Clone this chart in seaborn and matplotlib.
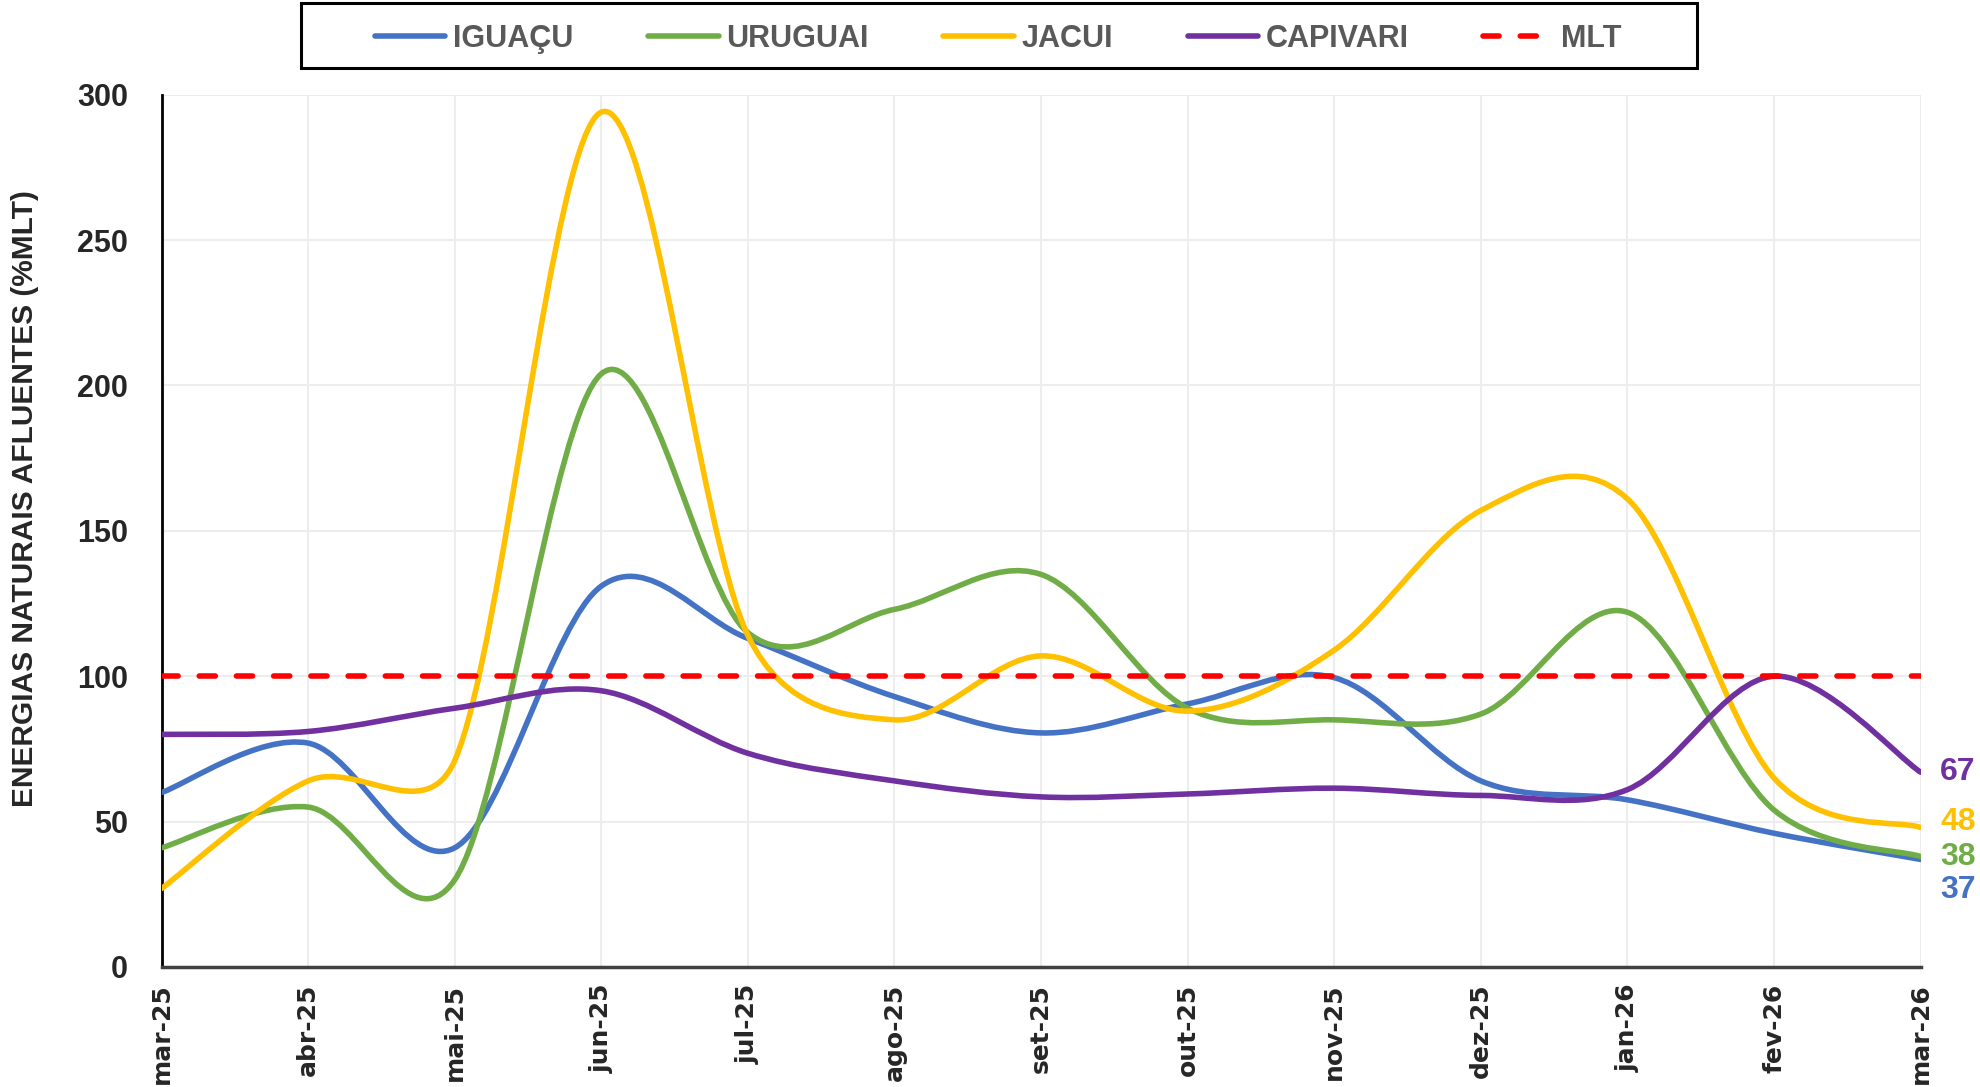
import numpy as np
import matplotlib
matplotlib.use("Agg")
import matplotlib.pyplot as plt
from matplotlib import font_manager
from matplotlib.path import Path
from matplotlib.patches import PathPatch, Rectangle
from matplotlib.lines import Line2D
import seaborn as sns

meses = ["mar-25", "abr-25", "mai-25", "jun-25", "jul-25", "ago-25", "set-25",
         "out-25", "nov-25", "dez-25", "jan-26", "fev-26", "mar-26"]
iguacu = [60, 77, 41, 131, 113, 93, 80.5, 90.5, 99.5, 64, 57.5, 46, 37]
uruguai = [41, 55, 30, 204, 115, 123, 135, 89, 85, 87, 122, 54, 38]
jacui = [27, 64, 71, 294, 114, 85, 107, 88, 109, 157, 161, 65, 48]
capivari = [80, 81, 89, 95, 73.5, 64, 58.5, 59.5, 61.5, 59, 61, 100, 67]
mlt = [100] * 13

series = [("IGUAÇU", iguacu, "#4472C4"),
          ("URUGUAI", uruguai, "#70AD47"),
          ("JACUI", jacui, "#FFC000"),
          ("CAPIVARI", capivari, "#7030A0")]

sns.set_style("white")
plt.rcParams['font.family'] = ['Liberation Sans', 'DejaVu Sans']

nomes_fontes = {f.name for f in font_manager.fontManager.ttflist}
if "Liberation Sans Narrow" in nomes_fontes:
    fonte_ylabel, tam_ylabel = "Liberation Sans Narrow", 26
else:
    fonte_ylabel, tam_ylabel = "Liberation Sans", 21.5

fig, ax = plt.subplots(figsize=(19.8, 10.87), dpi=100)
fig.subplots_adjust(left=0.0816, right=0.970, bottom=0.1104, top=0.9129)
x = np.arange(len(meses))
ax.set_xlim(0, len(meses) - 1)
ax.set_ylim(0, 300)


def excel_smooth(xs, ys):
    # bezier smoothing like excel, computed in pixel space
    pts = ax.transData.transform(np.column_stack([xs, ys]))
    n = len(pts)
    verts = [pts[0]]
    codes = [Path.MOVETO]
    for i in range(n - 1):
        p0 = pts[max(i - 1, 0)]
        p1 = pts[i]
        p2 = pts[i + 1]
        p3 = pts[min(i + 2, n - 1)]
        d02 = np.hypot(*(p2 - p0))
        d12 = np.hypot(*(p2 - p1))
        d13 = np.hypot(*(p3 - p1))
        f0 = 1 / 6 if d02 / 6 < d12 / 2 else d12 / (2 * d02)
        f1 = 1 / 6 if d13 / 6 < d12 / 2 else d12 / (2 * d13)
        verts += [p1 + (p2 - p0) * f0, p2 - (p3 - p1) * f1, p2]
        codes += [Path.CURVE4] * 3
    verts = ax.transData.inverted().transform(np.array(verts))
    return Path(verts, codes)


ax.grid(True, color="#EDEDED", lw=1.5)
ax.set_axisbelow(True)

for nome, vals, cor in series:
    ax.add_patch(PathPatch(excel_smooth(x, vals), facecolor="none", edgecolor=cor,
                           lw=4, capstyle="round", joinstyle="round", zorder=3))

sns.lineplot(x=x, y=mlt, ax=ax, color="#FF0000", linewidth=4, zorder=4)
linha_mlt = ax.lines[-1]
linha_mlt.set_dashes([2.9, 3.8])
linha_mlt.set_dash_capstyle("round")

# rotulos finais
offsets = {"CAPIVARI": 0, "JACUI": 4, "URUGUAI": 0, "IGUAÇU": -22}
for nome, vals, cor in series:
    ax.annotate(f"{vals[-1]:.0f}", xy=(x[-1], vals[-1]), xytext=(14, offsets[nome]),
                textcoords="offset points", ha="left", va="center", color=cor,
                fontsize=23, fontweight="bold", annotation_clip=False)

ax.set_xticks(x)
ax.set_xticklabels(meses, rotation=90, fontsize=18, fontweight="bold",
                   family="DejaVu Sans")
ax.set_yticks(np.arange(0, 301, 50))
ax.set_yticklabels([str(v) for v in range(0, 301, 50)], fontsize=22,
                   fontweight="bold")
ax.tick_params(axis="x", direction="inout", length=14, width=1.5, pad=5)
ax.tick_params(axis="y", direction="in", length=8, width=1.5, pad=24)

for lado in ["top", "right"]:
    ax.spines[lado].set_visible(False)
ax.spines["left"].set_color("black")
ax.spines["left"].set_linewidth(2)
ax.spines["bottom"].set_color("#404040")
ax.spines["bottom"].set_linewidth(2.5)

fig.text(0.0126, 0.541, "ENERGIAS NATURAIS AFLUENTES (%MLT)", rotation=90,
         ha="center", va="center", fontsize=tam_ylabel, fontweight="bold",
         family=fonte_ylabel)

handles = [Line2D([], [], color=cor, lw=4, solid_capstyle="round") for _, _, cor in series]
handles.append(Line2D([], [], color="#FF0000", lw=4, dashes=[2.9, 3.8],
                      dash_capstyle="round"))
labels = [s[0] for s in series] + ["MLT"]
leg = fig.legend(handles, labels, loc="center", bbox_to_anchor=(0.5043, 0.9645),
                 ncol=5, frameon=False, handlelength=2.3,
                 handletextpad=0.25, columnspacing=2.45, borderpad=0.4,
                 prop={"size": 22, "weight": "bold"})
for t in leg.get_texts():
    t.set_color("#595959")

# caixa da legenda
fig.patches.append(Rectangle((0.1518, 0.9374), 0.7053, 0.0603, transform=fig.transFigure,
                             facecolor="none", edgecolor="black", lw=2.2))

fig.savefig("out.png", dpi=100)
